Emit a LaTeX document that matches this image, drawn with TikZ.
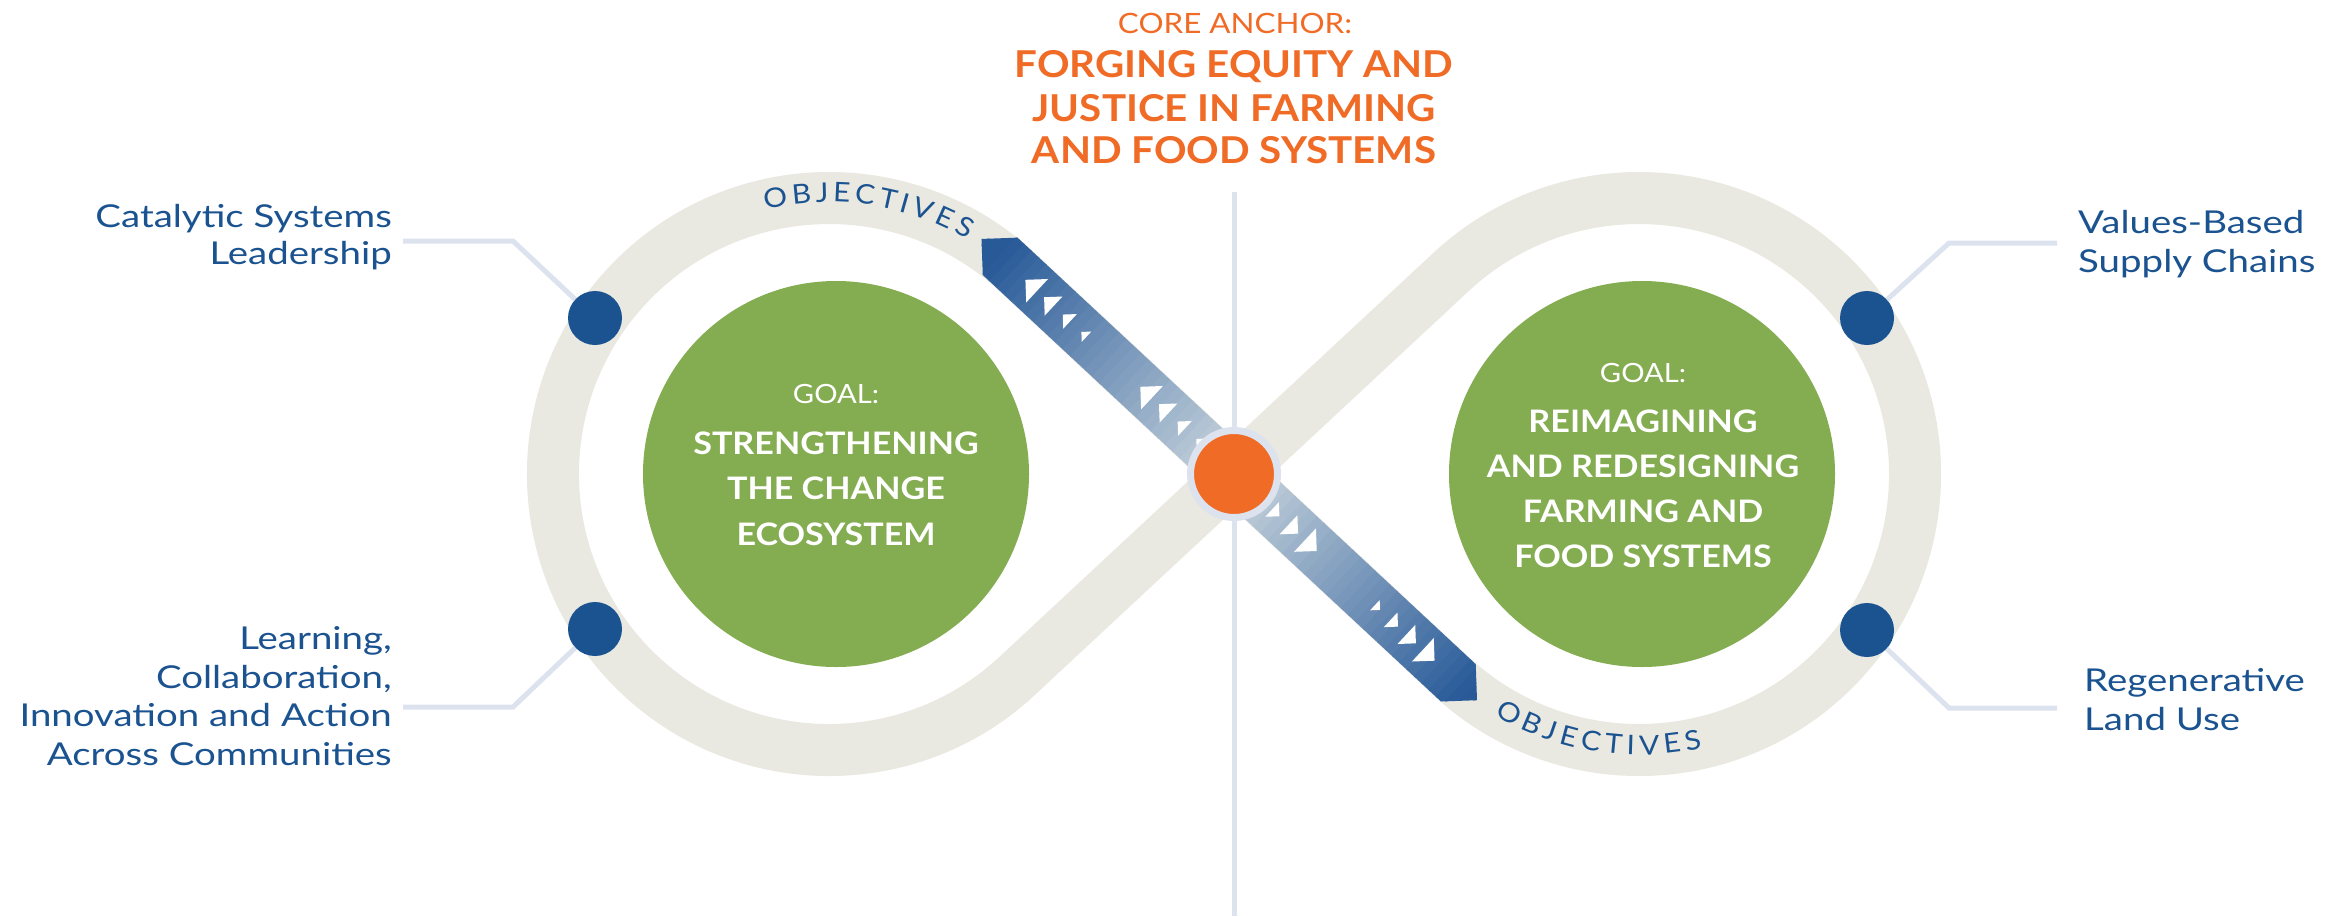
\documentclass[tikz,border=0pt]{standalone}
\usepackage{fontspec}
\setmainfont{Lato}
\newfontfamily\labfont[FakeStretch=1.22]{Lato}
\newfontfamily\goalfont[FakeStretch=1.1]{Lato}
\newfontfamily\titlefont[FakeStretch=1.09]{Lato}
\newfontfamily\corefont[FakeStretch=1.12]{Lato}
\newfontfamily\objfont[FakeStretch=1.1]{Lato}
\usetikzlibrary{decorations.text}
\definecolor{loopgray}{HTML}{E9E8E1}
\definecolor{linegray}{HTML}{DCE3EE}
\definecolor{dotblue}{HTML}{1B5390}
\definecolor{textblue}{HTML}{1B5390}
\definecolor{goalgreen}{HTML}{84AC51}
\definecolor{anchororange}{HTML}{EF6B26}
\definecolor{arrowdark}{HTML}{285A98}
\definecolor{arrowlight}{HTML}{CDD8DF}
\tikzset{
  lab/.style={font=\labfont\fontsize{31.5}{31.5}\selectfont, text=textblue, inner sep=0},
  conn/.style={draw=linegray, line width=5},
  dotnode/.style={circle, fill=dotblue, minimum size=54, inner sep=0},
  goalcircle/.style={circle, fill=goalgreen, minimum size=386, inner sep=0},
  goalsmall/.style={font=\goalfont\fontsize{26.5}{26.5}\selectfont, text=white, inner sep=0, anchor=base},
  goalbig/.style={font=\goalfont\bfseries\fontsize{31}{31}\selectfont, text=white, inner sep=0, anchor=base},
  titlebig/.style={font=\titlefont\bfseries\fontsize{37}{37}\selectfont, text=anchororange, inner sep=0, anchor=base},
}
\begin{document}
\begin{tikzpicture}[x=1pt,y=-1pt]
\useasboundingbox (0,0) rectangle (2349,916);
\fill[white] (0,0) rectangle (2349,916);
% vertical divider
\coordinate (vtop) at (1234,192);
\coordinate (vbot) at (1234,916);
\draw[linegray, line width=5] (vtop) -- (vbot);
% infinity loop
\draw[loopgray, line width=52] (1017,272) arc[start angle=-47.05, end angle=-312.95, radius=276]
  -- (1451,272) arc[start angle=227.05, end angle=492.95, radius=276] -- cycle;
% OBJECTIVES labels
\path[decorate, decoration={text along path, text align=fit to path, text color=textblue,
  text={|\objfont\fontsize{27}{27}\selectfont|OBJECTIVES}}]
  (829,474) ++(-103.5:272) arc[start angle=-103.5, end angle=-59.5, radius=272];
\path[decorate, decoration={text along path, text align=fit to path, text color=textblue,
  text={|\objfont\fontsize{27}{27}\selectfont|OBJECTIVES}}]
  (1639,474) ++(121:281) arc[start angle=121, end angle=77, radius=281];
% dots
\node[dotnode] (d1) at (595,318) {};
\node[dotnode] (d2) at (595,629) {};
\node[dotnode] (d3) at (1867,318) {};
\node[dotnode] (d4) at (1867,630) {};
% connectors
\coordinate (k1a) at (403,241); \coordinate (k1b) at (513,241);
\coordinate (k2a) at (403,707); \coordinate (k2b) at (513,707);
\coordinate (k3a) at (2057,243); \coordinate (k3b) at (1949,243);
\coordinate (k4a) at (2057,708); \coordinate (k4b) at (1949,708);
\draw[conn] (k1a) -- (k1b) -- (d1);
\draw[conn] (k2a) -- (k2b) -- (d2);
\draw[conn] (k3a) -- (k3b) -- (d3);
\draw[conn] (k4a) -- (k4b) -- (d4);
% labels
\node[lab, anchor=base east] (cat1) at (392,227) {Catalytic Systems};
\node[lab, anchor=base east] (cat2) at (392,264) {Leadership};
\node[lab, anchor=base east] (lrn1) at (392,649) {Learning,};
\node[lab, anchor=base east] (lrn2) at (392,688) {Collaboration,};
\node[lab, anchor=base east] (lrn3) at (392,726) {Innovation and Action};
\node[lab, anchor=base east] (lrn4) at (392,765) {Across Communities};
\node[lab, anchor=base west] (val1) at (2078,233) {Values-Based};
\node[lab, anchor=base west] (val2) at (2078,272) {Supply Chains};
\node[lab, anchor=base west] (reg1) at (2084,691) {Regenerative};
\node[lab, anchor=base west] (reg2) at (2084,730) {Land Use};
% goal circles
\node[goalcircle] (gl) at (836,474) {};
\node[goalcircle] (gr) at (1642,474) {};
\node[goalsmall] (gl0) at (836,403) {GOAL:};
\node[goalbig] (gl1) at (836,454) {STRENGTHENING};
\node[goalbig] (gl2) at (836,499) {THE CHANGE};
\node[goalbig] (gl3) at (836,545) {ECOSYSTEM};
\node[goalsmall] (gr0) at (1643,382) {GOAL:};
\node[goalbig] (gr1) at (1643,432) {REIMAGINING};
\node[goalbig] (gr2) at (1643,477) {AND REDESIGNING};
\node[goalbig] (gr3) at (1643,522) {FARMING AND};
\node[goalbig] (gr4) at (1643,567) {FOOD SYSTEMS};
% title
\node[font=\corefont\fontsize{28}{28}\selectfont, text=anchororange, inner sep=0, anchor=base] (core) at (1235,33) {CORE ANCHOR:};
\node[titlebig] (t1) at (1234,77) {FORGING EQUITY AND};
\node[titlebig] (t2) at (1234,121) {JUSTICE IN FARMING};
\node[titlebig] (t3) at (1234,163) {AND FOOD SYSTEMS};
% arrow
\begin{scope}[shift={(1234,474)}, rotate=-42.95]
  \begin{scope}
    \clip (-345,0) -- (-319.5,-25.5) -- (306.5,-25.5) -- (332,0) -- (306.5,25.5) -- (-319.5,25.5) -- cycle;
    \foreach \i in {-35,...,34} {
      \pgfmathsetmacro{\tc}{(\i+0.5)*10}
      \pgfmathsetmacro{\f}{min(100,abs(\tc)/3.2)}
      \fill[arrowdark!\f!arrowlight] (\i*10-0.6,-30) rectangle (\i*10+10.6,30);
    }
  \end{scope}
  \foreach \t/\a/\d in {-277/16/-1,-253/13/-1,-229/10/-1,-205/7/-1,
                        -120/16/-1,-96/13/-1,-72/10/-1,-48/7/-1,
                        33/7/1,57/10/1,81/13/1,105/16/1,
                        196/7/1,219/10/1,242/13/1,266/16/1} {
    \fill[white] (\t+\d*\a/2,0) -- (\t-\d*\a/2,\a) -- (\t-\d*\a/2,-\a) -- cycle;
  }
\end{scope}
% core anchor dot
\node[circle, fill=anchororange, draw=linegray, line width=7, minimum size=87, inner sep=0] (core dot) at (1234,474) {};
\end{tikzpicture}
\end{document}
